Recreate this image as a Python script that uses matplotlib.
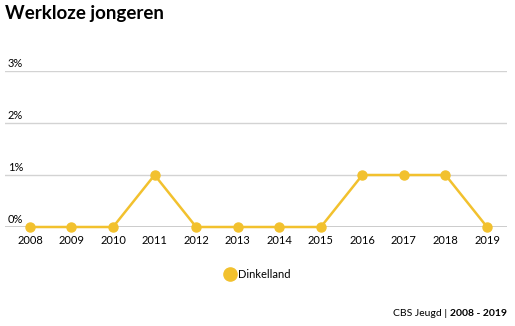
import matplotlib.pyplot as plt
import numpy as np

years = [2008, 2009, 2010, 2011, 2012, 2013, 2014, 2015, 2016, 2017, 2018, 2019]
dinkelland = [0, 0, 0, 1, 0, 0, 0, 0, 1, 1, 1, 0]
yticks = [0, 1, 2, 3]
geel = '#F2C12E'

plt.rcParams['font.family'] = ['Lato', 'DejaVu Sans']

fig = plt.figure(figsize=(5.15, 3.26), dpi=100)
ax = fig.add_axes([5 / 515, 1 - 227 / 326, 502 / 515, 156 / 326])

ax.plot(years, dinkelland, color=geel, linewidth=1.8, marker='o', markersize=6.5,
        clip_on=False, zorder=3, label='Dinkelland')

ax.set_xlim(2007.4, 2019.48)
ax.set_ylim(0, 3)

# rasterlijnen
for y in yticks[1:]:
    ax.axhline(y, color='#d3d3d3', linewidth=1, zorder=1)
for y in yticks:
    ax.text(0.006, y + 0.04, f'{y}%', transform=ax.get_yaxis_transform(),
            fontsize=8, va='bottom', ha='left')
ax.axhline(0, color='black', linewidth=1, zorder=2)

for s in ax.spines.values():
    s.set_visible(False)
ax.set_yticks([])
ax.set_xticks(years)
ax.set_xticklabels([str(j) for j in years], fontsize=8)
ax.tick_params(axis='x', length=0, pad=6)

fig.text(5 / 515, 1 - 14 / 326, 'Werkloze jongeren', fontsize=13.5, fontweight='bold',
         va='center', ha='left')

fig.legend(loc='center', bbox_to_anchor=(258 / 515, 1 - 274 / 326), frameon=False,
           fontsize=8, handlelength=0.8, handletextpad=0.4)
leg = fig.legends[0]
for h in leg.legend_handles:
    h.set_linestyle('none')
    h.set_markersize(9.5)

fig.text(507 / 515, 1 - 313 / 326, 'CBS Jeugd | ', fontsize=7.5, ha='right', va='center')
t = fig.text(507 / 515, 1 - 313 / 326, '2008 - 2019', fontsize=7.5, fontweight='bold',
             ha='right', va='center')
fig.canvas.draw()
bb = t.get_window_extent()
fig.texts[-2].set_x(bb.x0 / fig.bbox.width)

fig.savefig('out.png', dpi=100)
